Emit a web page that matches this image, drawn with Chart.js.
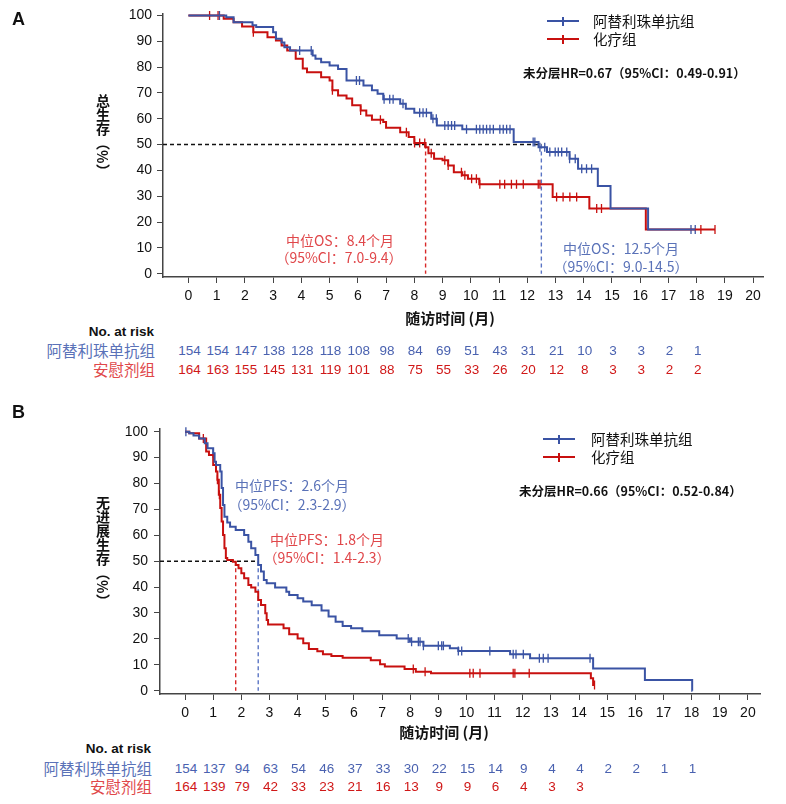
<!DOCTYPE html>
<html lang="zh">
<head>
    <meta charset="UTF-8">
    <title>总生存与无进展生存</title>
    <script src="https://cdn.jsdelivr.net/npm/chart.js@4.4.0/dist/chart.umd.min.js"></script>
    <style>
        body {
            margin: 0;
            background: #fff;
            font-family: 'Liberation Sans', Arial, sans-serif;
        }
        .panel {
            position: absolute;
            left: 0;
            width: 786px;
        }
        .panel canvas {
            position: absolute;
            left: 0;
            top: 0;
        }
        .txt {
            position: absolute;
            white-space: nowrap;
            line-height: 1;
        }
        .cjk { font-family: 'Noto Sans CJK SC', sans-serif; }
        .ytitle {
            position: absolute;
            writing-mode: vertical-rl;
            font-family: 'Noto Sans CJK SC', sans-serif;
            font-weight: bold;
            font-size: 14px;
            line-height: 1;
            color: #111;
        }
        .legline {
            position: absolute;
            height: 2px;
        }
        .legtick {
            position: absolute;
            width: 1.5px;
            height: 9px;
        }
    </style>
</head>
<body>
    <div class="panel" id="panelA" style="top:0; height:395px;">
        <canvas id="chartA" width="786" height="310"></canvas>
    </div>
    <div class="panel" id="panelB" style="top:395px; height:409px;">
        <canvas id="chartB" width="786" height="330"></canvas>
    </div>
    <script>
        // axis ticks
        const xTicks = [0, 1, 2, 3, 4, 5, 6, 7, 8, 9, 10, 11, 12, 13, 14, 15, 16, 17, 18, 19, 20];
        const yTicks = [0, 10, 20, 30, 40, 50, 60, 70, 80, 90, 100];
        const riskTimes = [0, 1, 2, 3, 4, 5, 6, 7, 8, 9, 10, 11, 12, 13, 14, 15, 16, 17, 18];

        const groupAte = '阿替利珠单抗组';
        const groupChemo = '化疗组';
        const groupRisk2 = '安慰剂组';

        // A: overall survival (step times in months, survival %)
        const osAteTime = [0, 1.34, 1.6, 2.27, 2.4, 3.0, 3.1, 3.3, 3.4, 3.6, 4.4, 4.5, 4.7, 5.0, 5.3, 5.6, 6.2, 6.5, 6.7, 6.9, 7.5, 7.7, 8.0, 8.6, 8.8, 9.7, 11.52, 12.4, 12.7, 13.5, 13.8, 14.5, 14.95, 16.28, 17.95];
        const osAteSurv = [100, 99.3, 97.4, 96.2, 95.5, 93.5, 91, 89.5, 87.7, 86.4, 84.5, 83.2, 81.9, 80.6, 79.3, 74.8, 72.9, 71, 69.7, 67.5, 65.8, 63.9, 62.3, 60, 57.4, 55.9, 51, 49, 47.1, 44.5, 40.6, 33.9, 25.2, 17.1, 17.1];
        const osAteCens = [1.1, 3.94, 4.35, 5.95, 6.06, 6.93, 7.13, 7.25, 7.6, 8.19, 8.31, 8.43, 8.66, 8.78, 9.08, 9.2, 9.32, 9.43, 9.85, 10.2, 10.32, 10.44, 10.56, 10.68, 10.8, 11.03, 11.15, 11.27, 11.39, 12.21, 12.27, 12.45, 12.62, 12.8, 12.99, 13.1, 13.22, 13.4, 13.5, 13.7, 13.93, 14.1, 14.28, 17.8, 17.95];

        const osChemoTime = [0, 1.25, 1.6, 1.9, 2.3, 2.8, 3.1, 3.3, 3.5, 3.8, 4.05, 4.2, 4.7, 5.0, 5.1, 5.3, 5.6, 5.8, 6.1, 6.3, 6.5, 6.9, 7.0, 7.5, 7.8, 8.0, 8.4, 8.5, 8.7, 9.0, 9.2, 9.4, 9.7, 9.9, 10.3, 12.9, 14.2, 16.2, 18.65];
        const osChemoSurv = [100, 98.7, 97.4, 95.7, 93.5, 91.6, 90.3, 88.4, 86.4, 83.2, 79.5, 78, 76.1, 74.8, 71, 69, 67.8, 65.2, 63.2, 61.3, 59.6, 58.7, 56.5, 54.8, 52.9, 50.6, 49, 46.6, 44.5, 43.9, 41.9, 39.3, 38.1, 36.8, 34.6, 29.7, 25.2, 17.1, 17.1];
        const osChemoCens = [0.75, 1.05, 2.3, 5.1, 6.1, 6.8, 7.72, 8.01, 8.19, 8.37, 8.6, 9.08, 9.2, 9.67, 9.79, 10.03, 10.2, 10.32, 11.03, 11.2, 11.44, 11.62, 11.86, 12.39, 12.45, 13.04, 13.27, 13.51, 13.75, 14.46, 14.63, 18.15, 18.65];

        const osMedianAte = 12.5;
        const osMedianChemo = 8.4;
        const osRiskAte = [154, 154, 147, 138, 128, 118, 108, 98, 84, 69, 51, 43, 31, 21, 10, 3, 3, 2, 1];
        const osRiskChemo = [164, 163, 155, 145, 131, 119, 101, 88, 75, 55, 33, 26, 20, 12, 8, 3, 3, 2, 2];

        // B: progression-free survival
        const pfsAteTime = [0, 0.15, 0.3, 0.5, 0.7, 0.8, 1.0, 1.05, 1.1, 1.25, 1.3, 1.35, 1.4, 1.5, 1.6, 1.8, 2.1, 2.25, 2.35, 2.5, 2.6, 2.7, 2.8, 2.9, 3.2, 3.6, 3.7, 4.0, 4.2, 4.5, 4.85, 5.1, 5.35, 5.6, 5.9, 6.3, 6.9, 7.52, 7.99, 8.47, 9.41, 9.71, 11.55, 12.26, 14.5, 16.34, 18.02, 18.03];
        const pfsAteSurv = [100, 99.4, 98.5, 97.4, 95.5, 93.6, 91.7, 88.4, 87.1, 84.6, 78.3, 71.7, 67.2, 64.9, 63.3, 62, 60.1, 57.5, 55, 52.4, 48.5, 46, 42.7, 41.5, 39.8, 38.2, 36.9, 35.7, 34.4, 33, 31, 28.6, 26.6, 25, 24.1, 23, 21.4, 20.2, 18.9, 17.4, 16.4, 15.3, 14.1, 12.5, 8.6, 4.1, 0, 0];
        const pfsAteCens = [0.03, 1.0, 7.93, 8.05, 8.29, 8.35, 8.47, 9.0, 9.12, 9.18, 9.71, 9.83, 10.83, 11.66, 11.76, 12.02, 12.59, 12.73, 12.9, 14.39];

        const pfsChemoTime = [0, 0.15, 0.5, 0.75, 0.85, 1.0, 1.1, 1.15, 1.2, 1.25, 1.3, 1.35, 1.4, 1.45, 1.5, 1.7, 1.8, 1.9, 2.0, 2.1, 2.25, 2.35, 2.5, 2.6, 2.7, 2.85, 2.9, 2.95, 3.5, 3.7, 4.0, 4.2, 4.4, 4.7, 4.9, 5.2, 5.6, 6.6, 6.93, 7.1, 7.8, 8.2, 8.74, 14.42, 14.5, 14.55];
        const pfsChemoSurv = [100, 99.4, 97.4, 92.3, 91, 87.1, 84.6, 81.4, 75.6, 70.5, 65.3, 60.1, 55, 51.2, 50.5, 49.8, 48.5, 47.3, 45.3, 43.4, 40.8, 39.8, 38.2, 35, 33.1, 29.9, 27.3, 25.6, 24.1, 21.8, 20.2, 18.3, 16.1, 15.2, 14.1, 13.4, 12.7, 11.8, 10.2, 9.3, 8.4, 7.3, 6.7, 4.8, 2.2, 2.2];
        const pfsChemoCens = [0.65, 1.15, 1.22, 8.11, 8.53, 10.12, 10.24, 10.48, 11.66, 11.72, 12.23, 14.55];

        const pfsMedianAte = 2.6;
        const pfsMedianChemo = 1.8;
        const pfsRiskAte = [154, 137, 94, 63, 54, 46, 37, 33, 30, 22, 15, 14, 9, 4, 4, 2, 2, 1, 1];
        const pfsRiskChemo = [164, 139, 79, 42, 33, 23, 21, 16, 13, 9, 9, 6, 4, 3, 3];

        // colours
        const BLUE = '#3a53a4';
        const RED = '#c8100f';
        const BLUE_TXT = '#5a72b8';
        const RED_TXT = '#e0474a';
        const BLUE_NUM = '#4a62b0';
        const RED_NUM = '#d01818';
        const RED_DASH = '#d82828';
        const BLUE_DASH = '#5a74c4';

        function stepPts(t, s) {
            return t.map((v, i) => ({ x: v, y: s[i] }));
        }

        function survAt(t, s, time) {
            let v = s[0];
            for (let i = 0; i < t.length; i++) {
                if (t[i] <= time) v = s[i];
            }
            return v;
        }

        function censPts(t, s, c) {
            return c.map(x => ({ x: x, y: survAt(t, s, x) }));
        }

        function curveSet(data, color) {
            return { data: data, borderColor: color, borderWidth: 2, stepped: true, pointRadius: 0, fill: false };
        }

        function censSet(data, color) {
            return {
                data: data, showLine: false, borderColor: color, backgroundColor: color,
                pointStyle: 'line', rotation: 90, pointRadius: 4.5, pointBorderWidth: 1.3, clip: 10
            };
        }

        function dashSet(data, color) {
            return { data: data, borderColor: color, borderWidth: 1.4, borderDash: [4, 3], pointRadius: 0, fill: false };
        }

        // build one KM chart
        function makeChart(id, g, datasets) {
            const tickFont = { family: "'Liberation Sans', Arial, sans-serif", size: 14 };
            return new Chart(document.getElementById(id), {
                type: 'line',
                data: { datasets: datasets },
                options: {
                    responsive: false,
                    animation: false,
                    layout: { padding: { left: 0, right: g.right, top: g.top, bottom: 0 } },
                    plugins: { legend: { display: false }, tooltip: { enabled: false } },
                    scales: {
                        x: {
                            type: 'linear', min: g.xMin, max: g.xMax,
                            afterBuildTicks: s => { s.ticks = xTicks.map(v => ({ value: v })); },
                            afterFit: s => { s.height = g.xHeight; },
                            grid: { drawOnChartArea: false, tickLength: 6, color: '#444', lineWidth: 1 },
                            border: { color: '#444', width: 1.5 },
                            ticks: { font: tickFont, color: '#111', padding: 5, maxRotation: 0, autoSkip: false }
                        },
                        y: {
                            type: 'linear', min: g.yMin, max: g.yMax,
                            afterBuildTicks: s => { s.ticks = yTicks.map(v => ({ value: v })); },
                            afterFit: s => { s.width = g.yWidth; },
                            grid: { drawOnChartArea: false, tickLength: 6, color: '#444', lineWidth: 1 },
                            border: { color: '#444', width: 1.5 },
                            ticks: { font: tickFont, color: '#111', padding: g.yPad }
                        }
                    }
                }
            });
        }

        function addText(panel, text, x, y, opts) {
            const d = document.createElement('div');
            d.className = 'txt' + (opts.cjk ? ' cjk' : '');
            d.textContent = text;
            d.style.left = x + 'px';
            d.style.top = y + 'px';
            d.style.fontSize = (opts.size || 14) + 'px';
            d.style.color = opts.color || '#111';
            if (opts.bold) d.style.fontWeight = 'bold';
            const tx = opts.align === 'center' ? '-50%' : (opts.align === 'right' ? '-100%' : '0');
            d.style.transform = 'translate(' + tx + ', -50%)';
            panel.appendChild(d);
            return d;
        }

        function addLegend(panel, x, y, w, color, label, textX) {
            const l = document.createElement('div');
            l.className = 'legline';
            l.style.left = x + 'px';
            l.style.top = (y - 1) + 'px';
            l.style.width = w + 'px';
            l.style.background = color;
            panel.appendChild(l);
            const t = document.createElement('div');
            t.className = 'legtick';
            t.style.left = (x + w / 2 - 0.75) + 'px';
            t.style.top = (y - 4.5) + 'px';
            t.style.background = color;
            panel.appendChild(t);
            addText(panel, label, textX, y, { cjk: true, size: 14.5, color: '#111' });
        }

        function addYTitle(panel, text, cx, top) {
            const d = document.createElement('div');
            d.className = 'ytitle';
            d.textContent = text;
            d.style.left = (cx - 7) + 'px';
            d.style.top = top + 'px';
            panel.appendChild(d);
        }

        function addRisk(panel, chart, yHead, yRow1, yRow2, labelRight, r1, r2) {
            const xs = chart.scales.x;
            addText(panel, 'No. at risk', labelRight - 1, yHead, { bold: true, size: 13.5, align: 'right' });
            addText(panel, groupAte, labelRight, yRow1, { cjk: true, size: 15.5, color: BLUE_TXT, align: 'right' });
            addText(panel, groupRisk2, labelRight, yRow2, { cjk: true, size: 15.5, color: RED_TXT, align: 'right' });
            r1.forEach((n, i) => addText(panel, String(n), xs.getPixelForValue(riskTimes[i]) + 1, yRow1, { size: 13.5, color: BLUE_NUM, align: 'center' }));
            r2.forEach((n, i) => addText(panel, String(n), xs.getPixelForValue(riskTimes[i]) + 1, yRow2, { size: 13.5, color: RED_NUM, align: 'center' }));
        }

        // ---- Panel A ----
        const gA = { xMin: -0.9, xMax: 20.35, yMin: -1.3, yMax: 100.8, top: 13, right: 23, xHeight: 33, yWidth: 163, yPad: 5 };
        const chartA = makeChart('chartA', gA, [
            curveSet(stepPts(osAteTime, osAteSurv), BLUE),
            curveSet(stepPts(osChemoTime, osChemoSurv), RED),
            censSet(censPts(osAteTime, osAteSurv, osAteCens), BLUE),
            censSet(censPts(osChemoTime, osChemoSurv, osChemoCens), RED),
            dashSet([{ x: gA.xMin, y: 50 }, { x: osMedianAte, y: 50 }], '#111'),
            dashSet([{ x: osMedianChemo, y: 50 }, { x: osMedianChemo, y: 0 }], RED_DASH),
            dashSet([{ x: osMedianAte, y: 50 }, { x: osMedianAte, y: 0 }], BLUE_DASH)
        ]);

        const pA = document.getElementById('panelA');
        addText(pA, 'A', 12, 19, { bold: true, size: 18 });
        addYTitle(pA, '总生存（%）', 103, 94);
        addText(pA, '随访时间 (月)', 450, 317, { cjk: true, bold: true, size: 15, align: 'center' });
        addLegend(pA, 547, 21, 32, BLUE, groupAte, 593);
        addLegend(pA, 547, 39, 32, RED, groupChemo, 593);
        addText(pA, '未分层HR=0.67（95%CI：0.49-0.91）', 523, 73, { cjk: true, bold: true, size: 12.5 });
        addText(pA, '中位OS：8.4个月', 340, 240, { cjk: true, size: 14, color: RED_TXT, align: 'center' });
        addText(pA, '（95%CI：7.0-9.4）', 339, 257, { cjk: true, size: 14, color: RED_TXT, align: 'center' });
        addText(pA, '中位OS：12.5个月', 621, 248, { cjk: true, size: 14, color: BLUE_TXT, align: 'center' });
        addText(pA, '（95%CI：9.0-14.5）', 621, 266, { cjk: true, size: 14, color: BLUE_TXT, align: 'center' });
        addRisk(pA, chartA, 332, 351, 370, 155, osRiskAte, osRiskChemo);

        // ---- Panel B ----
        const gB = { xMin: -0.89, xMax: 20.43, yMin: -1.27, yMax: 101.3, top: 33.3, right: 26, xHeight: 31, yWidth: 160, yPad: 6 };
        const chartB = makeChart('chartB', gB, [
            curveSet(stepPts(pfsAteTime, pfsAteSurv), BLUE),
            curveSet(stepPts(pfsChemoTime, pfsChemoSurv), RED),
            censSet(censPts(pfsAteTime, pfsAteSurv, pfsAteCens), BLUE),
            censSet(censPts(pfsChemoTime, pfsChemoSurv, pfsChemoCens), RED),
            dashSet([{ x: gB.xMin, y: 50 }, { x: pfsMedianAte, y: 50 }], '#111'),
            dashSet([{ x: pfsMedianChemo, y: 50 }, { x: pfsMedianChemo, y: 0 }], RED_DASH),
            dashSet([{ x: pfsMedianAte, y: 50 }, { x: pfsMedianAte, y: 0 }], BLUE_DASH)
        ]);

        const pB = document.getElementById('panelB');
        addText(pB, 'B', 12, 17, { bold: true, size: 18 });
        addYTitle(pB, '无进展生存（%）', 103, 101);
        addText(pB, '随访时间 (月)', 444, 336, { cjk: true, bold: true, size: 15, align: 'center' });
        addLegend(pB, 543, 44, 32, BLUE, groupAte, 591);
        addLegend(pB, 543, 62, 32, RED, groupChemo, 591);
        addText(pB, '未分层HR=0.66（95%CI：0.52-0.84）', 519, 96, { cjk: true, bold: true, size: 12.5 });
        addText(pB, '中位PFS：2.6个月', 292, 90, { cjk: true, size: 14, color: BLUE_TXT, align: 'center' });
        addText(pB, '（95%CI：2.3-2.9）', 292, 109, { cjk: true, size: 14, color: BLUE_TXT, align: 'center' });
        addText(pB, '中位PFS：1.8个月', 327, 144, { cjk: true, size: 14, color: RED_TXT, align: 'center' });
        addText(pB, '（95%CI：1.4-2.3）', 327, 162, { cjk: true, size: 14, color: RED_TXT, align: 'center' });
        addRisk(pB, chartB, 354, 374, 392, 152, pfsRiskAte, pfsRiskChemo);
    </script>
</body>
</html>
